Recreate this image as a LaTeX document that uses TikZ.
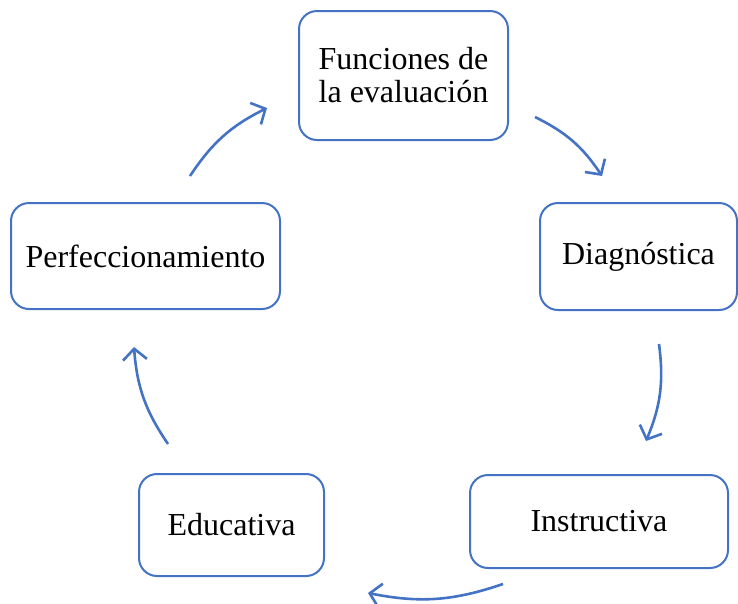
\documentclass[tikz,border=0pt]{standalone}
\usepackage{fontspec}
\setmainfont{Liberation Serif}
\usetikzlibrary{arrows.meta}
\definecolor{accent}{HTML}{4472C4}
\tikzset{
  box/.style={draw=accent, line width=2pt, rounded corners=18pt, fill=white, inner sep=0pt, align=center,
    font=\fontsize{32}{33}\selectfont},
  cyc/.style={draw=accent, line width=2.6pt, -{Straight Barb[length=11pt,width=24pt,line width=2.6pt]}, bend left=15}
}
\begin{document}
\begin{tikzpicture}[x=1pt,y=-1pt]
\useasboundingbox (0,0) rectangle (738,603);
\node[box, minimum width=209pt, minimum height=129pt] (f) at (403.5,75.5) {Funciones de\\la evaluación};
\node[box, minimum width=197pt, minimum height=107pt] (d) at (638.5,256.5) {Diagnóstica};
\node[box, minimum width=258pt, minimum height=93pt] (i) at (599,521.5) {Instructiva};
\node[box, minimum width=185pt, minimum height=102pt] (e) at (231.5,525) {Educativa};
\node[box, minimum width=269pt, minimum height=106pt] (p) at (145.5,256) {Perfeccionamiento};
\coordinate (a1s) at (535,117); \coordinate (a1e) at (602,176);
\coordinate (a2s) at (659,344); \coordinate (a2e) at (646,441);
\coordinate (a3s) at (503,584); \coordinate (a3e) at (368,593);
\coordinate (a4s) at (168,444); \coordinate (a4e) at (134,347);
\coordinate (a5s) at (190,176); \coordinate (a5e) at (267,108);
\draw[cyc] (a1s) to (a1e);
\draw[cyc] (a2s) to (a2e);
\draw[cyc] (a3s) to (a3e);
\draw[cyc] (a4s) to (a4e);
\draw[cyc] (a5s) to (a5e);
\end{tikzpicture}
\end{document}
